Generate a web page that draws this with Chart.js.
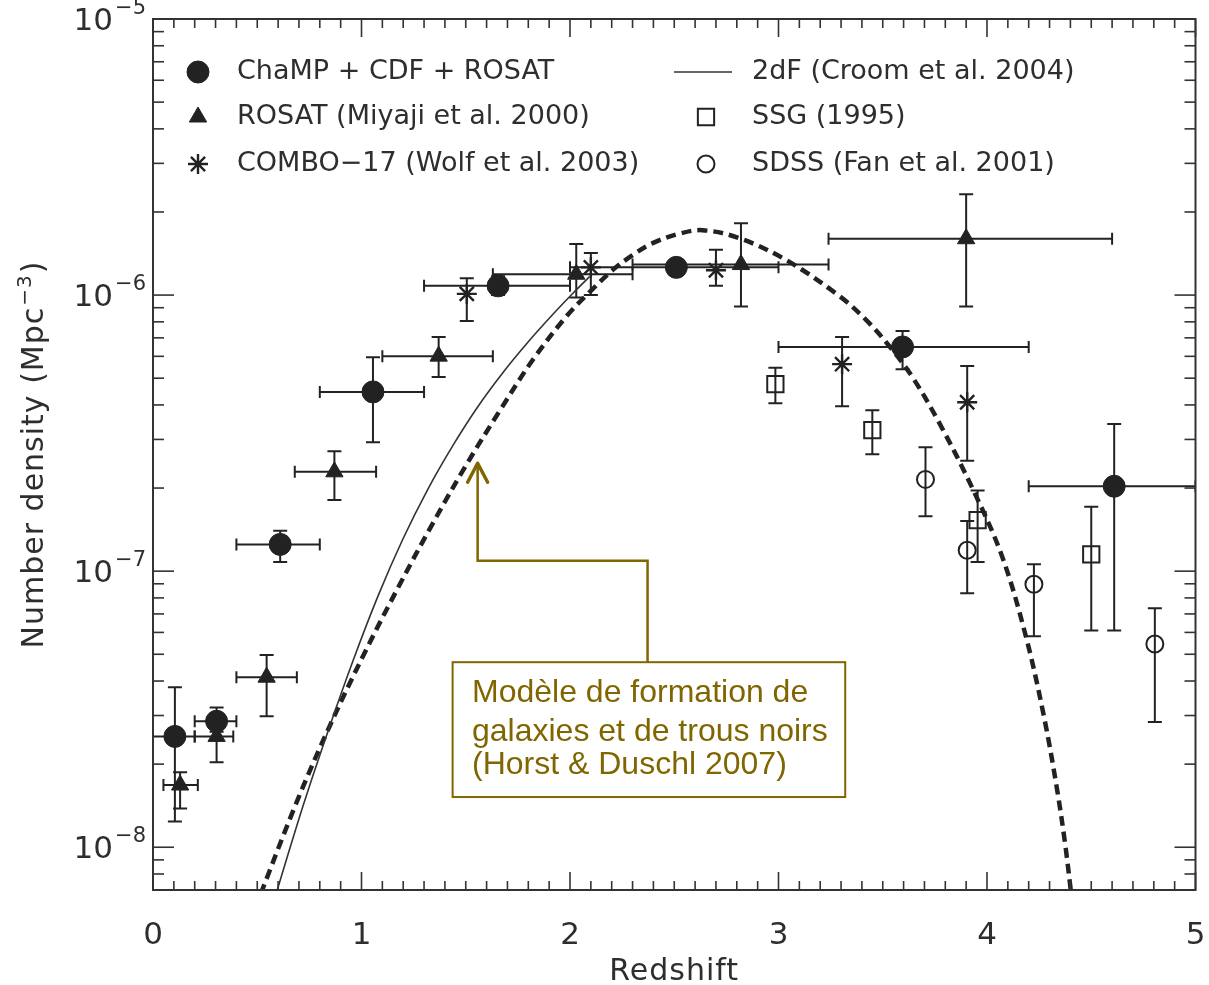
<!DOCTYPE html>
<html>
<head>
<meta charset="utf-8">
<script src="https://cdn.jsdelivr.net/npm/chart.js@4.4.1/dist/chart.umd.min.js"></script>
<style>
  html, body { margin: 0; padding: 0; background: #fff; }
  #wrap { width: 1209px; height: 985px; position: relative; }
</style>
</head>
<body>
<div id="wrap"><canvas id="qso-density"></canvas></div>
<script>
// ChaMP + CDF + ROSAT (filled circles)
const champZ = [0.105, 0.305, 0.61, 1.055, 1.655, 2.51, 3.595, 4.61];
const champN = [2.52e-8, 2.86e-8, 1.25e-7, 4.46e-7, 1.08e-6, 1.26e-6, 6.49e-7, 2.03e-7];
const champZLo = [0, 0.2, 0.4, 0.8, 1.3, 2.0, 3.0, 4.2];
const champZHi = [0.2, 0.4, 0.8, 1.3, 2.0, 3.0, 4.2, 5.0];
const champNLo = [1.24e-8, 2.62e-8, 1.08e-7, 2.93e-7, 1.0e-6, 1.2e-6, 5.39e-7, 6.1e-8];
const champNHi = [3.8e-8, 3.21e-8, 1.40e-7, 5.96e-7, 1.17e-6, 1.32e-6, 7.41e-7, 3.41e-7];

// ROSAT, Miyaji et al. 2000 (filled triangles)
const rosatZ = [0.13, 0.305, 0.545, 0.87, 1.37, 2.03, 2.82, 3.9];
const rosatN = [1.68e-8, 2.52e-8, 4.13e-8, 2.29e-7, 6.01e-7, 1.19e-6, 1.29e-6, 1.60e-6];
const rosatZLo = [0.05, 0.2, 0.4, 0.68, 1.1, 1.63, 2.3, 3.24];
const rosatZHi = [0.215, 0.385, 0.69, 1.07, 1.63, 2.3, 3.24, 4.6];
const rosatNLo = [1.38e-8, 2.03e-8, 2.98e-8, 1.81e-7, 5.05e-7, 9.8e-7, 9.1e-7, 9.1e-7];
const rosatNHi = [1.87e-8, 3.0e-8, 4.97e-8, 2.72e-7, 7.05e-7, 1.53e-6, 1.82e-6, 2.32e-6];

// COMBO-17, Wolf et al. 2003 (asterisks)
const comboZ = [1.505, 2.1, 2.7, 3.305, 3.905];
const comboN = [1.01e-6, 1.26e-6, 1.23e-6, 5.62e-7, 4.09e-7];
const comboNLo = [8.05e-7, 1.0e-6, 1.08e-6, 3.96e-7, 2.51e-7];
const comboNHi = [1.15e-6, 1.42e-6, 1.46e-6, 7.05e-7, 5.53e-7];

// SSG 1995 (open squares)
const ssgZ = [2.985, 3.45, 3.955, 4.5];
const ssgN = [4.76e-7, 3.24e-7, 1.53e-7, 1.15e-7];
const ssgNLo = [4.06e-7, 2.65e-7, 1.08e-7, 6.1e-8];
const ssgNHi = [5.45e-7, 3.83e-7, 1.96e-7, 1.71e-7];

// SDSS, Fan et al. 2001 (open circles)
const sdssZ = [3.705, 3.905, 4.225, 4.805];
const sdssN = [2.15e-7, 1.19e-7, 8.97e-8, 5.45e-8];
const sdssNLo = [1.58e-7, 8.32e-8, 5.81e-8, 2.84e-8];
const sdssNHi = [2.81e-7, 1.52e-7, 1.06e-7, 7.34e-8];

// 2dF, Croom et al. 2004 (thin line)
const croomZ = [0.561, 0.719, 0.839, 0.958, 1.078, 1.198, 1.318, 1.438, 1.557, 1.677, 1.797, 1.917, 2.013, 2.094];
const croomN = [5.73e-9, 1.407e-8, 2.628e-8, 4.708e-8, 8.087e-8, 1.305e-7, 1.98e-7, 2.85e-7, 3.934e-7, 5.223e-7, 6.732e-7, 8.5e-7, 1.013e-6, 1.166e-6];

// Horst & Duschl 2007 model (thick dashes)
const modelZ = [0.489, 0.690, 0.848, 1.016, 1.184, 1.342, 1.500, 1.663, 1.821, 1.984, 2.094, 2.204, 2.300, 2.396, 2.516, 2.635, 2.813, 3.038, 3.292, 3.421, 3.531, 3.642, 3.771, 3.929, 4.073, 4.188, 4.274, 4.336, 4.375, 4.404];
const modelN = [5.99e-9, 1.463e-8, 2.753e-8, 5.077e-8, 8.966e-8, 1.49e-7, 2.409e-7, 3.808e-7, 5.818e-7, 8.396e-7, 1.025e-6, 1.231e-6, 1.395e-6, 1.542e-6, 1.662e-6, 1.718e-6, 1.607e-6, 1.338e-6, 9.92e-7, 8.12e-7, 6.54e-7, 5.05e-7, 3.444e-7, 2.004e-7, 1.128e-7, 5.746e-8, 2.953e-8, 1.621e-8, 1.025e-8, 6.76e-9];

// axes
const xTickValues = [0, 1, 2, 3, 4, 5];
const xTickLabels = ['0', '1', '2', '3', '4', '5'];
const yTickDecades = [-8, -7, -6, -5];
const xMin = 0, xMax = 5, yMin = 7.05e-9, yMax = 1e-5;

const ink = '#222222';
const textInk = '#2e2e2e';
const olive = '#806600';
const plotFont = '"DejaVu Sans", sans-serif';

const points = (zs, ns) => zs.map((z, i) => ({ x: z, y: ns[i] }));

const markerSets = [
  { label: 'ChaMP + CDF + ROSAT', pointStyle: 'circle', radius: 11, fill: ink, border: 1 },
  { label: 'ROSAT (Miyaji et al. 2000)', pointStyle: 'triangle', radius: 10, fill: ink, border: 1 },
  { label: 'COMBO\u221217 (Wolf et al. 2003)', pointStyle: 'star', radius: 10, fill: 'rgba(0,0,0,0)', border: 2.4 },
  { label: 'SSG (1995)', pointStyle: 'rect', radius: 11.5, fill: 'rgba(0,0,0,0)', border: 2 },
  { label: 'SDSS (Fan et al. 2001)', pointStyle: 'circle', radius: 8.5, fill: 'rgba(0,0,0,0)', border: 2 }
];

function markerDataset(style, data, errors) {
  return {
    label: style.label, data, errors,
    pointStyle: style.pointStyle,
    pointRadius: style.radius,
    pointBackgroundColor: style.fill,
    pointBorderColor: ink,
    pointBorderWidth: style.border,
    showLine: false
  };
}

const datasets = [
  markerDataset(markerSets[0], points(champZ, champN), { zLo: champZLo, zHi: champZHi, nLo: champNLo, nHi: champNHi }),
  markerDataset(markerSets[1], points(rosatZ, rosatN), { zLo: rosatZLo, zHi: rosatZHi, nLo: rosatNLo, nHi: rosatNHi }),
  markerDataset(markerSets[2], points(comboZ, comboN), { nLo: comboNLo, nHi: comboNHi }),
  markerDataset(markerSets[3], points(ssgZ, ssgN), { nLo: ssgNLo, nHi: ssgNHi }),
  markerDataset(markerSets[4], points(sdssZ, sdssN), { nLo: sdssNLo, nHi: sdssNHi }),
  {
    label: '2dF (Croom et al. 2004)', data: points(croomZ, croomN), showLine: true,
    borderColor: '#333', borderWidth: 1.6, pointRadius: 0, tension: 0.35, fill: false
  },
  {
    label: 'Horst & Duschl 2007', data: points(modelZ, modelN), showLine: true,
    borderColor: ink, borderWidth: 4.5, borderDash: [10, 6], pointRadius: 0, tension: 0.35, fill: false
  }
];

function seg(ctx, x1, y1, x2, y2) {
  ctx.beginPath(); ctx.moveTo(x1, y1); ctx.lineTo(x2, y2); ctx.stroke();
}

const errorBars = {
  id: 'errorBars',
  beforeDatasetsDraw(chart) {
    const { ctx, chartArea: a, scales: { x, y } } = chart;
    ctx.save();
    ctx.beginPath(); ctx.rect(a.left, a.top, a.width, a.height); ctx.clip();
    ctx.strokeStyle = ink; ctx.lineWidth = 2;
    chart.data.datasets.forEach((ds) => {
      const err = ds.errors;
      if (!err) return;
      ds.data.forEach((p, i) => {
        const px = x.getPixelForValue(p.x), py = y.getPixelForValue(p.y);
        if (err.nLo) {
          const t = y.getPixelForValue(err.nHi[i]), b = y.getPixelForValue(err.nLo[i]);
          seg(ctx, px, t, px, b);
          seg(ctx, px - 7, t, px + 7, t);
          seg(ctx, px - 7, b, px + 7, b);
        }
        if (err.zLo) {
          const l = x.getPixelForValue(err.zLo[i]), r = x.getPixelForValue(err.zHi[i]);
          seg(ctx, l, py, r, py);
          seg(ctx, l, py - 6, l, py + 6);
          seg(ctx, r, py - 6, r, py + 6);
        }
      });
    });
    ctx.restore();
  }
};

function drawMarker(ctx, style, cx, cy) {
  ctx.fillStyle = style.fill; ctx.strokeStyle = ink; ctx.lineWidth = style.border;
  if (Chart.helpers && Chart.helpers.drawPoint) {
    Chart.helpers.drawPoint(ctx, { pointStyle: style.pointStyle, radius: style.radius, rotation: 0, borderWidth: style.border }, cx, cy);
  } else {
    ctx.beginPath(); ctx.arc(cx, cy, style.radius, 0, Math.PI * 2); ctx.fill(); ctx.stroke();
  }
}

const frame = {
  id: 'frame',
  afterDraw(chart) {
    const { ctx, chartArea: a, scales: { x, y } } = chart;
    ctx.save();
    ctx.strokeStyle = '#333'; ctx.lineWidth = 2;
    ctx.strokeRect(a.left, a.top, a.width, a.height);

    // minor / major ticks pointing inwards on all four sides
    ctx.lineWidth = 1.6;
    for (let k = 0; k <= 50; k++) {
      const px = x.getPixelForValue(k / 10);
      const len = k % 10 === 0 ? 18 : 9;
      seg(ctx, px, a.bottom, px, a.bottom - len);
      seg(ctx, px, a.top, px, a.top + len);
    }
    for (let d = -9; d <= -5; d++) {
      for (let m = 1; m <= 9; m++) {
        const v = m * Math.pow(10, d);
        if (v < yMin || v > yMax * 1.0001) continue;
        const py = y.getPixelForValue(v);
        const len = m === 1 ? 21 : 11;
        seg(ctx, a.left, py, a.left + len, py);
        seg(ctx, a.right, py, a.right - len, py);
      }
    }

    // tick labels
    ctx.fillStyle = textInk;
    ctx.font = `31px ${plotFont}`;
    ctx.textAlign = 'center'; ctx.textBaseline = 'alphabetic';
    xTickValues.forEach((v, i) => ctx.fillText(xTickLabels[i], x.getPixelForValue(v), a.bottom + 54));
    yTickDecades.forEach((d) => {
      const py = y.getPixelForValue(Math.pow(10, d));
      const sup = '\u2212' + Math.abs(d);
      ctx.font = `21px ${plotFont}`;
      const ws = ctx.measureText(sup).width;
      ctx.font = `31px ${plotFont}`;
      const wb = ctx.measureText('10').width;
      const right = a.left - 7;
      ctx.textAlign = 'left';
      ctx.fillText('10', right - ws - wb - 2, py + 11);
      ctx.font = `21px ${plotFont}`;
      ctx.fillText(sup, right - ws, py - 5);
    });

    // axis titles
    ctx.font = `30px ${plotFont}`;
    ctx.letterSpacing = '1px';
    ctx.textAlign = 'center';
    ctx.fillText('Redshift', (a.left + a.right) / 2, 980);
    ctx.save();
    ctx.translate(43, (a.top + a.bottom) / 2);
    ctx.rotate(-Math.PI / 2);
    const base = 'Number density (Mpc', sup = '\u22123', tail = ')';
    ctx.font = `30px ${plotFont}`;
    const wBase = ctx.measureText(base).width, wTail = ctx.measureText(tail).width;
    ctx.font = `20px ${plotFont}`;
    const wSup = ctx.measureText(sup).width;
    let tx = -(wBase + wSup + wTail + 2) / 2;
    ctx.textAlign = 'left';
    ctx.font = `30px ${plotFont}`;
    ctx.fillText(base, tx, 0); tx += wBase + 1;
    ctx.font = `20px ${plotFont}`;
    ctx.fillText(sup, tx, -12); tx += wSup + 1;
    ctx.font = `30px ${plotFont}`;
    ctx.fillText(tail, tx, 0);
    ctx.restore();
    ctx.letterSpacing = '0px';

    // legend
    const rows = [72, 117, 164];
    ctx.font = `27px ${plotFont}`;
    ctx.textAlign = 'left'; ctx.textBaseline = 'middle';
    [0, 1, 2].forEach((i) => {
      drawMarker(ctx, markerSets[i], 198, rows[i]);
      ctx.fillStyle = textInk;
      ctx.fillText(markerSets[i].label, 237, rows[i]);
    });
    ctx.strokeStyle = '#333'; ctx.lineWidth = 1.6;
    seg(ctx, 674, rows[0], 732, rows[0]);
    ctx.fillStyle = textInk;
    ctx.fillText('2dF (Croom et al. 2004)', 752, rows[0]);
    [3, 4].forEach((i, k) => {
      drawMarker(ctx, markerSets[i], 706, rows[k + 1]);
      ctx.fillStyle = textInk;
      ctx.fillText(markerSets[i].label, 752, rows[k + 1]);
    });
    ctx.restore();
  }
};

// annotation box + elbow arrow pointing at the model curve, placed in data units
const note = {
  lines: ['Mod\u00e8le de formation de', 'galaxies et de trous noirs', '(Horst & Duschl 2007)'],
  boxZ: [1.437, 3.32], boxN: [4.68e-8, 1.52e-8],
  textZ: 1.53, baselineN: [3.35e-8, 2.42e-8, 1.84e-8],
  arrowZ: [2.372, 1.557], arrowN: [1.09e-7, 2.48e-7]
};

const annotation = {
  id: 'annotation',
  afterDraw(chart) {
    const { ctx, scales: { x, y } } = chart;
    ctx.save();
    ctx.strokeStyle = olive;
    const l = x.getPixelForValue(note.boxZ[0]), r = x.getPixelForValue(note.boxZ[1]);
    const t = y.getPixelForValue(note.boxN[0]), b = y.getPixelForValue(note.boxN[1]);
    ctx.fillStyle = '#fff';
    ctx.fillRect(l, t, r - l, b - t);
    ctx.lineWidth = 2;
    ctx.strokeRect(l, t, r - l, b - t);
    ctx.fillStyle = olive;
    ctx.font = '32px "Liberation Sans", Arial, sans-serif';
    ctx.textAlign = 'left'; ctx.textBaseline = 'alphabetic';
    note.lines.forEach((s, i) => ctx.fillText(s, x.getPixelForValue(note.textZ), y.getPixelForValue(note.baselineN[i])));

    const sx = x.getPixelForValue(note.arrowZ[0]);
    const my = y.getPixelForValue(note.arrowN[0]);
    const ex = x.getPixelForValue(note.arrowZ[1]);
    const ey = y.getPixelForValue(note.arrowN[1]);
    ctx.lineWidth = 2.5;
    ctx.beginPath();
    ctx.moveTo(sx, t); ctx.lineTo(sx, my); ctx.lineTo(ex, my); ctx.lineTo(ex, ey);
    ctx.stroke();
    ctx.lineWidth = 3.5; ctx.lineCap = 'round'; ctx.lineJoin = 'round';
    ctx.beginPath();
    ctx.moveTo(ex - 10, ey + 20); ctx.lineTo(ex, ey + 1); ctx.lineTo(ex + 10, ey + 20);
    ctx.stroke();
    ctx.restore();
  }
};

new Chart(document.getElementById('qso-density'), {
  type: 'scatter',
  data: { datasets },
  options: {
    responsive: true,
    maintainAspectRatio: false,
    animation: false,
    events: [],
    layout: { padding: { left: 153, right: 12, top: 19, bottom: 95 } },
    plugins: { legend: { display: false }, tooltip: { enabled: false } },
    scales: {
      x: { type: 'linear', min: xMin, max: xMax, display: false },
      y: { type: 'logarithmic', min: yMin, max: yMax, display: false }
    }
  },
  plugins: [errorBars, frame, annotation]
});
</script>
</body>
</html>
